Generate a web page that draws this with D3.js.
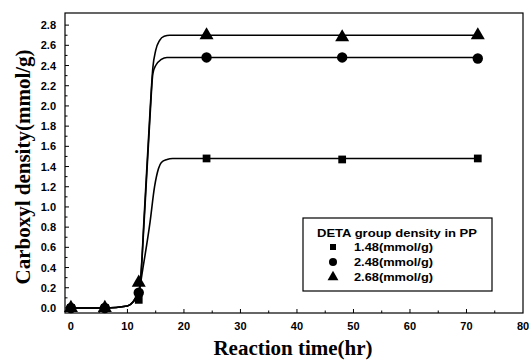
<!DOCTYPE html>
<html><head><meta charset="utf-8">
<script src="https://cdn.jsdelivr.net/npm/d3@7"></script>
<style>body{margin:0;background:#fff}</style>
</head><body><svg id="c" width="529" height="363"></svg>
<script>
const times = [0, 6, 12, 24, 48, 72];
const sq = [0, 0, 0.08, 1.48, 1.47, 1.48];
const ci = [0, 0, 0.15, 2.48, 2.48, 2.47];
const tr = [0, 0, 0.25, 2.70, 2.68, 2.70];
const seriesNames = ["1.48(mmol/g)", "2.48(mmol/g)", "2.68(mmol/g)"];
const fitSqX = [0, 6, 10, 11, 12, 12.7, 14, 14.8, 15.5, 16, 17, 18, 72];
const fitSqY = [0, 0, 0.02, 0.06, 0.15, 0.38, 0.85, 1.2, 1.38, 1.44, 1.47, 1.48, 1.48];
const fitCiX = [0, 6, 10, 11, 12, 12.2, 13, 14, 14.5, 15, 16, 17, 72];
const fitCiY = [0, 0, 0.02, 0.06, 0.17, 0.21, 0.9, 1.9, 2.32, 2.40, 2.46, 2.48, 2.48];
const fitTrX = [0, 6, 10, 11, 12, 12.2, 13, 14, 14.5, 15, 15.7, 16.5, 17.5, 72];
const fitTrY = [0, 0, 0.02, 0.06, 0.17, 0.21, 0.95, 1.95, 2.38, 2.55, 2.65, 2.69, 2.70, 2.70];
const xTicks = [0,10,20,30,40,50,60,70,80];
const yTicks = [0.0,0.2,0.4,0.6,0.8,1.0,1.2,1.4,1.6,1.8,2.0,2.2,2.4,2.6,2.8];

const svg = d3.select("#c");
const L=65, R=523, T=13, B=313;
const x = d3.scaleLinear().domain([-1.05, 80]).range([L, R]);
const y = d3.scaleLinear().domain([-0.05, 2.92]).range([B, T]);

svg.append("rect").attr("x",L).attr("y",T).attr("width",R-L).attr("height",B-T)
  .attr("fill","none").attr("stroke","#000").attr("stroke-width",1.2);

const tickFont = "bold 11px 'Liberation Sans', Arial, sans-serif";
const gx = svg.append("g");
d3.range(0, 80, 5).forEach(v => {
  gx.append("line").attr("x1",x(v)).attr("x2",x(v)).attr("y1",B).attr("y2",B-(v%10===0?4:2.5)).attr("stroke","#000");
});
xTicks.forEach(v => {
  gx.append("text").attr("x",x(v)).attr("y",330).attr("text-anchor","middle")
    .style("font",tickFont).text(v);
});
const gy = svg.append("g");
d3.range(0, 2.81, 0.1).forEach((v,i) => {
  gy.append("line").attr("x1",L).attr("x2",L+(i%2===0?4:2.5)).attr("y1",y(v)).attr("y2",y(v)).attr("stroke","#000");
});
yTicks.forEach(v => {
  gy.append("text").attr("x",56).attr("y",y(v)+4).attr("text-anchor","end")
    .style("font",tickFont).text(v.toFixed(1));
});

const line = d3.line().curve(d3.curveMonotoneX);
[[fitSqX,fitSqY],[fitCiX,fitCiY],[fitTrX,fitTrY]].forEach(([fx,fy]) => {
  svg.append("path").attr("d", line(fx.map((t,i)=>[x(t), y(fy[i])])))
    .attr("fill","none").attr("stroke","#000").attr("stroke-width",1.6);
});

const sym = [d3.symbolSquare, d3.symbolCircle, d3.symbolTriangle];
const sizes = [60, 85, 85];
[sq, ci, tr].forEach((s, k) => {
  svg.append("g").selectAll("path").data(times).join("path")
    .attr("transform",(t,i)=>`translate(${x(t)},${y(s[i])})`)
    .attr("d", d3.symbol().type(sym[k]).size(sizes[k])).attr("fill","#000");
});

const lg = svg.append("g");
lg.append("rect").attr("x",303).attr("y",218).attr("width",189).attr("height",73)
  .attr("fill","#fff").attr("stroke","#000").attr("stroke-width",1.2);
const lgFont = "bold 11.5px 'Liberation Sans', Arial, sans-serif";
lg.append("text").attr("x",317).attr("y",237).attr("textLength",160).attr("lengthAdjust","spacingAndGlyphs")
  .style("font",lgFont).text("DETA group density in PP");
seriesNames.forEach((n,k) => {
  const yy = 247 + k*15;
  lg.append("path").attr("transform",`translate(333,${yy})`).attr("d", d3.symbol().type(sym[k]).size(sizes[k]*0.6)).attr("fill","#000");
  lg.append("text").attr("x",354).attr("y",yy+4).attr("textLength",79).attr("lengthAdjust","spacingAndGlyphs")
    .style("font",lgFont).text(n);
});

const titleFont = "bold 21px 'Liberation Serif', 'Times New Roman', serif";
svg.append("text").attr("x",293).attr("y",355).attr("text-anchor","middle")
  .style("font",titleFont).text("Reaction time(hr)");
svg.append("text").attr("transform","translate(30,167) rotate(-90)").attr("text-anchor","middle")
  .style("font",titleFont).text("Carboxyl density(mmol/g)");
</script></body></html>
